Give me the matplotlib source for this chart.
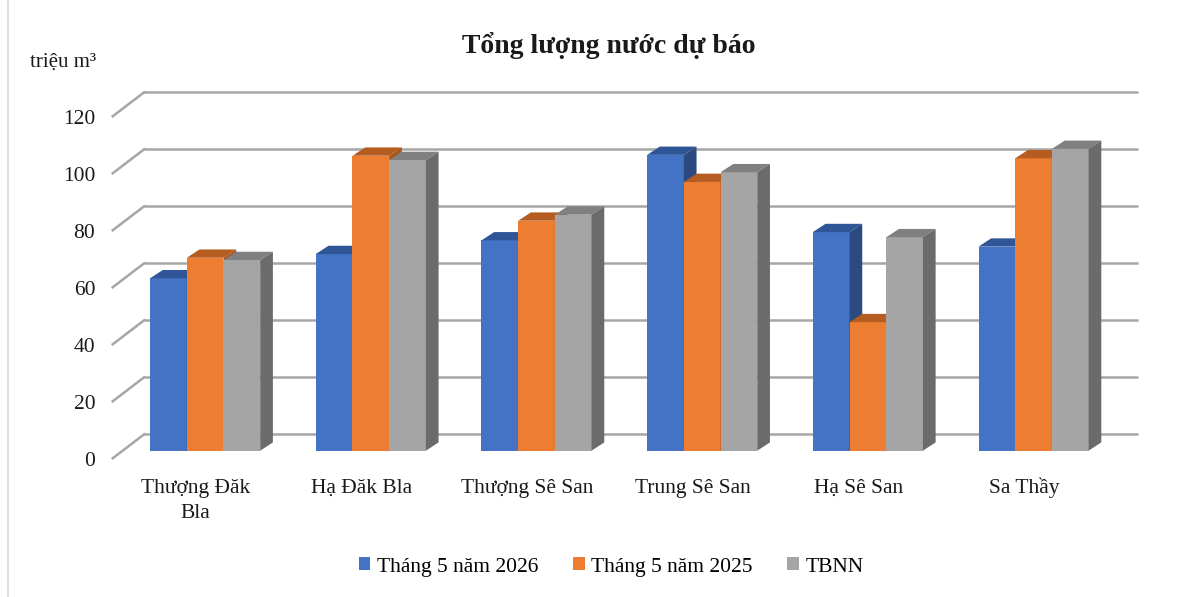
import matplotlib
matplotlib.use('Agg')
import matplotlib.pyplot as plt
from matplotlib.patches import Polygon, Patch
from matplotlib.lines import Line2D

plt.rcParams['font.family'] = ['Liberation Serif', 'DejaVu Serif']

# ---- data ----
stations = ['Thượng Đăk\nBla', 'Hạ Đăk Bla', 'Thượng Sê San', 'Trung Sê San', 'Hạ Sê San', 'Sa Thầy']
thang5_2026 = [60.5, 69.0, 73.8, 103.8, 76.7, 71.6]
thang5_2025 = [67.7, 103.5, 80.7, 94.3, 45.1, 102.6]
tbnn = [66.9, 102.0, 82.8, 97.7, 74.9, 105.9]
series_names = ['Tháng 5 năm 2026', 'Tháng 5 năm 2025', 'TBNN']
yticks = [0, 20, 40, 60, 80, 100, 120]

# front / top / side colours per series
colors = [('#4472c4', '#2f5597', '#2b4a80'),
          ('#ed7d31', '#b55d20', '#a9561c'),
          ('#a5a5a5', '#808080', '#6b6b6b')]

W, H = 1204, 597
fig = plt.figure(figsize=(W / 100, H / 100), dpi=100)

# axes = plane of the bar front faces (pixels)
ax_l, ax_r, ax_t, ax_b = 122.3, 1116.4, 108.7, 450.7
ax = fig.add_axes([ax_l / W, 1 - ax_b / H, (ax_r - ax_l) / W, (ax_b - ax_t) / H])
ax.set_xlim(-0.5, 5.5)
ax.set_ylim(0, 120)
ax.axis('off')

px_x = (ax_r - ax_l) / 6
px_y = (ax_b - ax_t) / 120


def off(dx_px, dy_px):
    # pixel offset -> data offset (dy up)
    return dx_px / px_x, dy_px / px_y


bar_dx, bar_dy = off(12.7, 8.3)
wall_dx, wall_dy = off(21.8, 16.4)
front_dx, front_dy = off(-9.6, -7.6)

# ---- back wall grid + side wall lines + y labels ----
grid_col = '#a6a6a6'
x0w = -0.5
for v in yticks:
    ax.plot([x0w + wall_dx, 5.5 + wall_dx], [v + wall_dy] * 2, color=grid_col, lw=1.8,
            clip_on=False, zorder=1, solid_capstyle='butt')
    ax.plot([x0w + front_dx, x0w + wall_dx], [v + front_dy, v + wall_dy], color=grid_col, lw=1.8,
            clip_on=False, zorder=1)
    ax.text(x0w + front_dx - off(17.5, 0)[0], v + front_dy - off(0, 3.5)[1], str(v),
            ha='right', va='center', fontsize=15.5, color='#1a1a1a')

# ---- 3D-looking bars ----
bw = 0.2215
all_series = [thang5_2026, thang5_2025, tbnn]
z = 3
for i in range(len(stations)):
    for j, vals in enumerate(all_series):
        x0 = i - 1.5 * bw + j * bw
        v = vals[i]
        c_front, c_top, c_side = colors[j]
        ax.bar(x0, v, width=bw, align='edge', color=c_front, lw=0, zorder=z)
        top = [(x0, v), (x0 + bw, v), (x0 + bw + bar_dx, v + bar_dy), (x0 + bar_dx, v + bar_dy)]
        side = [(x0 + bw, 0), (x0 + bw + bar_dx, bar_dy), (x0 + bw + bar_dx, v + bar_dy), (x0 + bw, v)]
        ax.add_patch(Polygon(top, closed=True, facecolor=c_top, lw=0, zorder=z, clip_on=False))
        ax.add_patch(Polygon(side, closed=True, facecolor=c_side, lw=0, zorder=z, clip_on=False))
        z += 1

# category labels (front plane), one text per line so baselines line up
for i, name in enumerate(stations):
    for k, line in enumerate(name.split('\n')):
        ax.text(i + front_dx, -off(0, 42.5 + 24.5 * k)[1], line, ha='center', va='baseline',
                fontsize=15.5, color='#1a1a1a')

# title and unit
fig.text(609 / W, 1 - 45 / H, 'Tổng lượng nước dự báo', ha='center', va='center',
         fontsize=20, fontweight='bold', color='#1a1a1a')
fig.text(30 / W, 1 - 62 / H, 'triệu m³', ha='left', va='center', fontsize=15, color='#1a1a1a')

# legend
handles = [Patch(facecolor=colors[k][0], edgecolor='none', label=series_names[k]) for k in range(3)]
fig.legend(handles=handles, loc='center', bbox_to_anchor=(611 / W, 1 - 567 / H), ncol=3,
           frameon=False, fontsize=15.5, handlelength=0.55, handleheight=0.55,
           handletextpad=0.3, columnspacing=1.6)

# chart border on the left
fig.add_artist(Line2D([8 / W, 8 / W], [0, 1], color='#d9d9d9', lw=1.2))

fig.savefig('out.png', dpi=100)
